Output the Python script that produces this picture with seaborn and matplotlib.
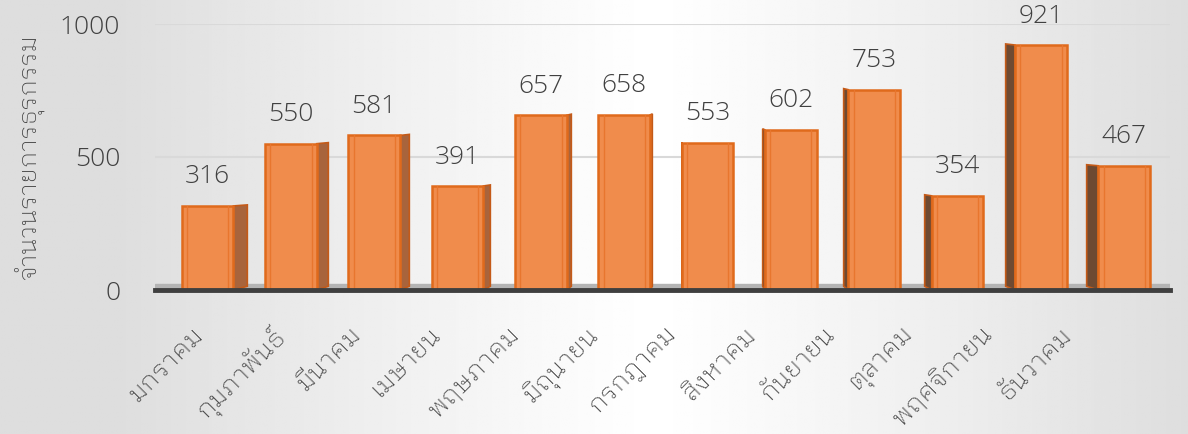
import numpy as np
import pandas as pd
import matplotlib
matplotlib.use("Agg")
import matplotlib.pyplot as plt
import matplotlib.transforms as mtrans
from matplotlib import font_manager
from matplotlib.ft2font import FT2Font
from matplotlib.patches import Polygon
import seaborn as sns

months = ["มกราคม", "กุมภาพันธ์", "มีนาคม", "เมษายน", "พฤษภาคม", "มิถุนายน",
          "กรกฎาคม", "สิงหาคม", "กันยายน", "ตุลาคม", "พฤศจิกายน", "ธันวาคม"]
counts = [316, 550, 581, 391, 657, 658, 553, 602, 753, 354, 921, 467]
y_ticks = [0, 500, 1000]
y_label = "จำนวนรายการธุรกรรม"

# find installed families with Thai glyphs; prefer a looped design
thai_names = []
for fe in font_manager.fontManager.ttflist:
    try:
        f = FT2Font(fe.fname)
        if 0x0E01 in f.get_charmap() and fe.name not in thai_names:
            thai_names.append(fe.name)
    except Exception:
        pass
looped = [n for n in thai_names if "loop" in n.lower()]
thai_family = looped[0] if looped else (thai_names[0] if thai_names else "DejaVu Sans")

sns.set_theme(style="white")
plt.rcParams["font.family"] = [thai_family, "DejaVu Sans"]
num_font = ["Open Sans", "DejaVu Sans"]

df = pd.DataFrame({"month": months, "count": counts})

fig = plt.figure(figsize=(11.88, 4.34), dpi=100)
# background gradient
bg = fig.add_axes([0, 0, 1, 1], zorder=-10)
xs = np.linspace(0, 1, 400)
prof = 1 - 0.13 * np.clip(np.abs(xs - 0.55) / 0.45, 0, 1) ** 1.1
img = np.tile(prof, (50, 1))
bg.imshow(img, cmap="gray", vmin=0, vmax=1, aspect="auto", extent=[0, 1, 0, 1])
bg.axis("off")

ax = fig.add_axes([155 / 1188, 1 - 290 / 434, (1170 - 155) / 1188, (290 - 24) / 434])
ax.patch.set_alpha(0)

sns.barplot(data=df, x="month", y="count", ax=ax, color="#F08C4C", width=0.62,
            edgecolor="#E06A1C", linewidth=1.8, saturation=1, zorder=3)
bars = list(ax.patches)

ax.set_xlim(-0.63, 11.55)
ax.set_ylim(0, 1000)
ax.set_yticks(y_ticks)
ax.set_yticklabels([str(t) for t in y_ticks], fontsize=19, color="#404040",
                   family=num_font, weight="light")
ax.tick_params(axis="y", length=0, pad=25)
ax.tick_params(axis="x", length=0, pad=14)
ax.set_xticks(range(len(months)))
ax.set_xticklabels(months, rotation=45, ha="right", rotation_mode="anchor",
                   fontsize=18.5, color="#404040", weight="light")
# the category labels sit on the front edge of the 3D floor, which is
# slightly narrower than the bar row (perspective)
for i, lab in enumerate(ax.get_xticklabels()):
    off = mtrans.ScaledTranslation((-17 - 4.4 * i) / 100, -12 / 100, fig.dpi_scale_trans)
    lab.set_transform(lab.get_transform() + off)
ax.set_xlabel("")
ax.set_ylabel(y_label, fontsize=18, color="#404040", labelpad=11, weight="light")
for s in ["top", "right", "left"]:
    ax.spines[s].set_visible(False)
ax.spines["bottom"].set_color("#3f3f3f")
ax.spines["bottom"].set_linewidth(3.5)
ax.spines["bottom"].set_zorder(5)
for t in [500, 1000]:
    ax.axhline(t, color="#d9d9d9", lw=1.5, zorder=1)
# floor
ax.axhspan(0, 22, color="#b4b4b4", zorder=2)

# pseudo 3D side faces and value labels
center = 6.0
for i, p in enumerate(bars):
    x0 = p.get_x()
    w = p.get_width()
    h = p.get_height()
    d = -(i - center) * 0.028
    if d > 0:
        xe = x0 + w
        col = "#A8643C"
    else:
        xe = x0
        col = "#6E4A32"
    poly = [(xe, 0), (xe + d, 14), (xe + d, h + 4), (xe, h)]
    ax.add_patch(Polygon(poly, closed=True, facecolor=col, edgecolor="#C45A18",
                         lw=1.2, zorder=2.5))
    # faint inner edge lines of the front face
    for xi in (x0 + 0.1 * w, x0 + 0.9 * w):
        ax.plot([xi, xi], [0, h], color="#E8762E", lw=1.0, zorder=3.5)
    ax.text(x0 + w / 2, h + 62, str(counts[i]), ha="center", va="bottom",
            fontsize=19, color="#404040", family=num_font, weight="light")

fig.savefig("out.png", dpi=100)
